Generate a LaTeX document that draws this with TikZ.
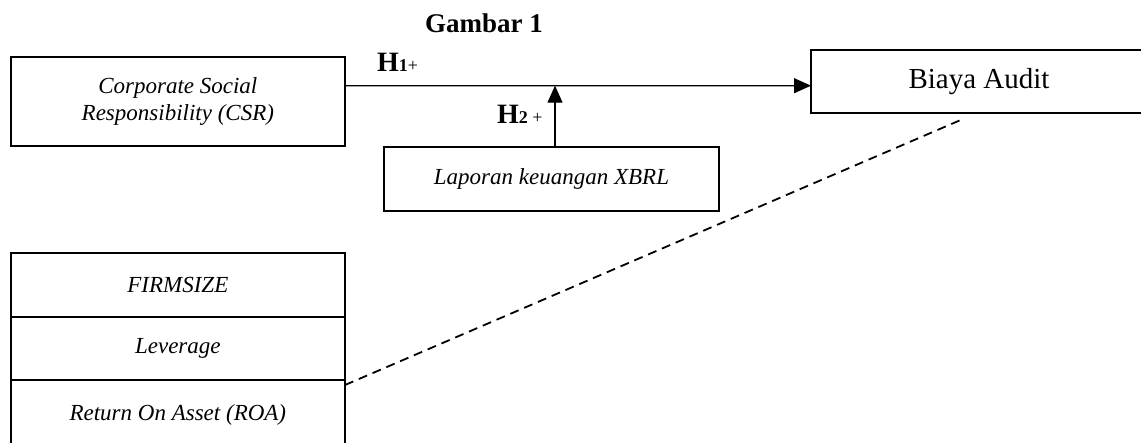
\documentclass[tikz,border=0pt]{standalone}
\usepackage{fontspec}
\setmainfont{Liberation Serif}
\usetikzlibrary{arrows.meta}
\tikzset{
  boxnode/.style={draw, line width=2pt, inner sep=0pt, outer sep=0pt, align=center},
  itxt/.style={font=\fontsize{23}{27}\selectfont\itshape},
  conn/.style={line width=1.2pt},
  tip/.style={-{Triangle[length=17pt,width=15pt]}},
  dashconn/.style={line width=1.8pt, dash pattern=on 9pt off 6pt},
  lbl/.style={inner sep=0pt, anchor=base west}
}
\begin{document}
\begin{tikzpicture}[x=1pt,y=-1pt]
\useasboundingbox (0,0) rectangle (1141,442);
% title
\node[inner sep=0pt, anchor=base] (title) at (484,32) {\fontsize{27}{27}\selectfont\bfseries Gambar 1};
% boxes
\node[boxnode, itxt, minimum width=334.3pt, minimum height=88.7pt] (csr) at (177.85,101.65) {Corporate Social\\Responsibility (CSR)};
\node[boxnode, minimum width=336pt, minimum height=63pt, font=\fontsize{29}{29}\selectfont] (biaya) at (979,81.5) {Biaya Audit};
\node[boxnode, itxt, minimum width=335pt, minimum height=64pt] (xbrl) at (551.5,179) {Laporan keuangan XBRL};
\node[boxnode, itxt, minimum width=334.3pt, minimum height=63.5pt] (firm) at (177.85,285) {FIRMSIZE};
\node[boxnode, itxt, minimum width=334.3pt, minimum height=63pt] (lev) at (177.85,348.5) {Leverage};
\node[boxnode, itxt, minimum width=334.3pt, minimum height=70pt] (roa) at (177.85,415) {Return On Asset (ROA)};
% connectors
\coordinate (hline) at ([yshift=16pt]csr.east);
\draw[conn, tip] (hline) -- ([yshift=-4.2pt]biaya.west);
\draw[conn, tip] ([xshift=3.5pt]xbrl.north) -- ([xshift=3.5pt]xbrl.north |- hline);
\coordinate (dend) at ([xshift=-16pt,yshift=-6pt]biaya.south);
\draw[dashconn] ([yshift=-5pt]roa.north east) -- (dend);
% labels
\node[lbl] (h1) at (377,71) {\fontsize{28}{28}\selectfont\bfseries H\fontsize{18}{18}\selectfont 1\mdseries+};
\node[lbl] (h2) at (497,123) {\fontsize{28}{28}\selectfont\bfseries H\fontsize{18}{18}\selectfont 2 \mdseries+};
\end{tikzpicture}
\end{document}
